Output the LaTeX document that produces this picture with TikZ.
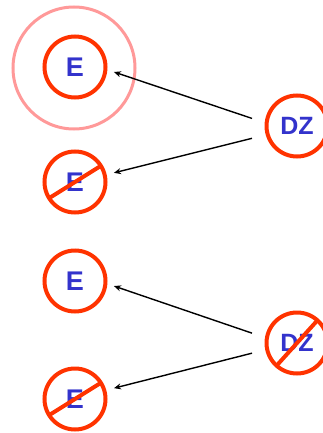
\documentclass[tikz,border=0pt]{standalone}
\usepackage{fontspec}
\setmainfont{Liberation Sans}
\usetikzlibrary{arrows.meta}
\definecolor{ringred}{HTML}{FF3300}
\definecolor{haloPink}{HTML}{FF9999}
\definecolor{labelblue}{HTML}{3333CC}
\begin{document}
\begin{tikzpicture}[x=1pt,y=-1pt,
  ring/.style={circle, draw=ringred, line width=4pt, minimum size=61pt,
    inner sep=0pt, outer sep=0pt, text=labelblue,
    font=\bfseries\fontsize{27}{27}\selectfont},
  dzring/.style={ring, font=\bfseries\fontsize{25}{25}\selectfont},
  halo/.style={circle, draw=haloPink, line width=3pt, minimum size=122pt,
    inner sep=0pt, outer sep=0pt},
  strike/.style={draw=ringred, line width=4pt},
  link/.style={draw=black, line width=1.4pt,
    -{Stealth[length=7pt,width=6pt]}}]
\useasboundingbox (0,0) rectangle (322,433);

% halo around the first E
\node[halo] (h1) at (74,68) {};

% E nodes
\node[ring] (e1) at (75,67) {E};
\node[ring] (e2) at (75,182) {E};
\node[ring] (e3) at (75,281) {E};
\node[ring] (e4) at (75,399) {E};

% DZ nodes
\node[dzring] (d1) at (297,126) {DZ};
\node[dzring] (d2) at (297,343) {DZ};

% strike-through bars
\draw[strike] (e2.212) -- (e2.32);
\draw[strike] (e4.212) -- (e4.32);
\draw[strike] (d2.228) -- (d2.48);

% arrows from DZ to E
\draw[link, shorten <=15.4pt, shorten >=9pt] (d1.175) -- (e1.-4);
\draw[link, shorten <=16.2pt, shorten >=9.5pt] (d1.196) -- (e2.13);
\draw[link, shorten <=15.7pt, shorten >=9pt] (d2.171) -- (e3.-4);
\draw[link, shorten <=15.6pt, shorten >=10pt] (d2.192) -- (e4.16);
\end{tikzpicture}
\end{document}
